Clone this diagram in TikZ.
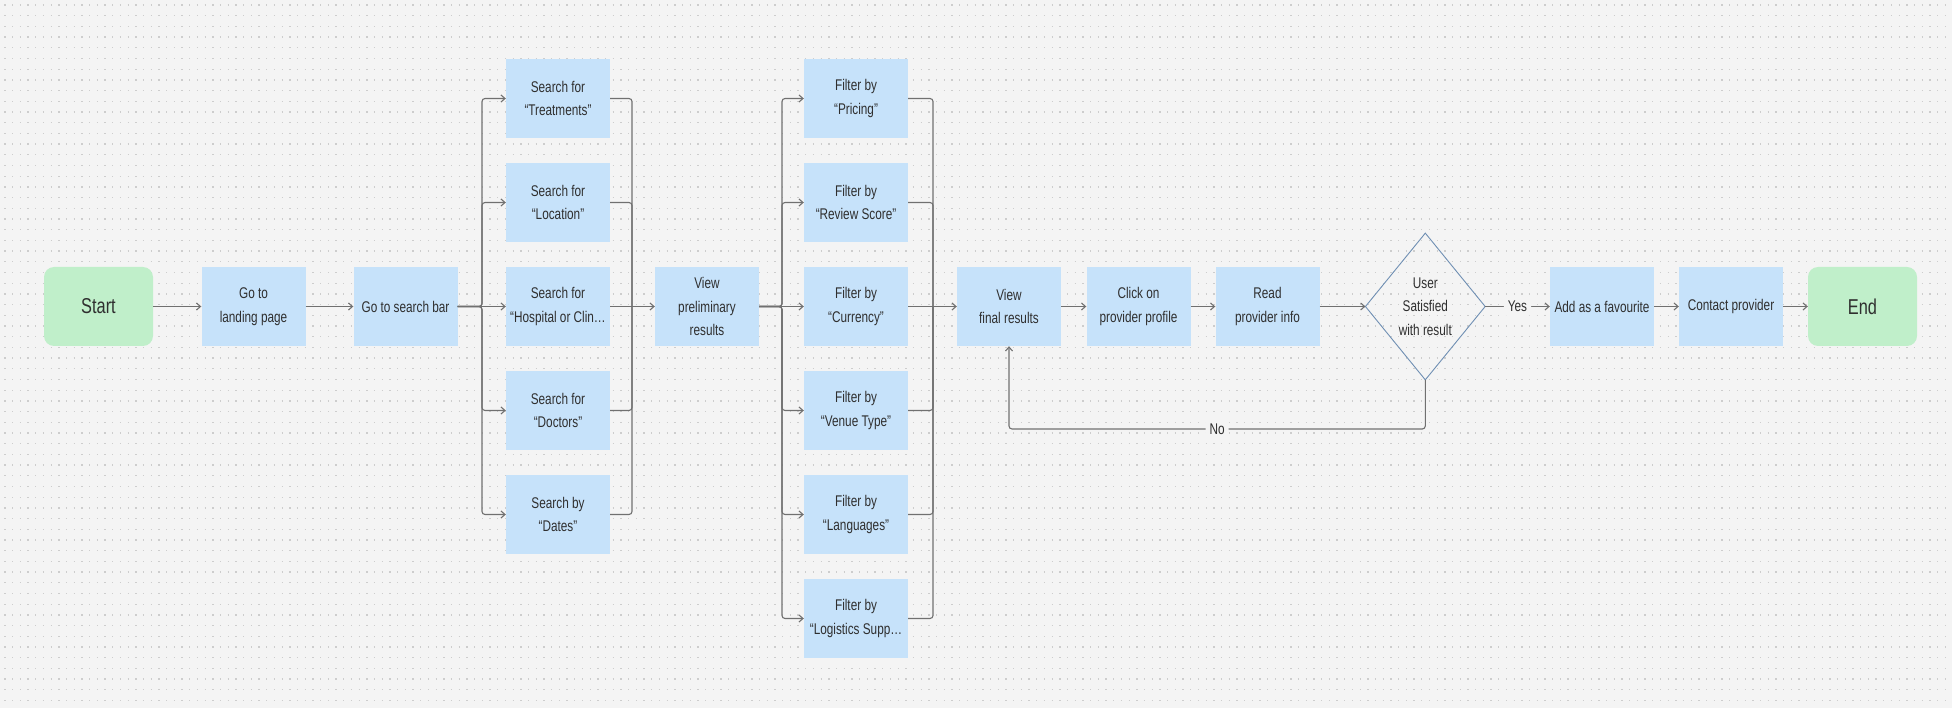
\documentclass[tikz,border=0pt]{standalone}
\usepackage{fontspec}
\setmainfont[FakeStretch=0.76]{Liberation Sans}
\usetikzlibrary{arrows.meta}
\definecolor{bgc}{HTML}{F4F4F4}
\definecolor{dotc}{HTML}{CDCDCD}
\definecolor{boxblue}{HTML}{C6E2FA}
\definecolor{boxgreen}{HTML}{C0EFCA}
\definecolor{txtc}{HTML}{2F2F2F}
\definecolor{lnc}{HTML}{707070}
\definecolor{diamc}{HTML}{6F8FB3}
\begin{document}
\begin{tikzpicture}[x=1pt,y=-1pt,
  box/.style={fill=boxblue, minimum width=104pt, minimum height=79pt, inner sep=0pt,
    align=center, text=txtc, font=\fontsize{15.5}{23.7}\selectfont},
  term/.style={fill=boxgreen, rounded corners=10pt, minimum width=109pt, minimum height=79pt,
    inner sep=0pt, text=txtc, font=\fontsize{21.5}{25}\selectfont},
  wire/.style={draw=lnc, line width=1.1pt, rounded corners=3pt},
  conn/.style={wire, -{Straight Barb[length=4pt,width=7pt]}},
  lbl/.style={fill=bgc, inner sep=4pt, text=txtc, font=\fontsize{15.5}{18}\selectfont},
  decbox/.style={minimum width=119.3pt, minimum height=146.3pt, inner sep=0pt, align=center,
    text=txtc, font=\fontsize{15.5}{23.7}\selectfont}
]
% background
\fill[bgc] (0,0) rectangle (1952,708);
\useasboundingbox (0,0) rectangle (1952,708);
\foreach \r in {0,...,65} {
  \draw[dotc, line width=1.3pt, dash pattern=on 1.3pt off 6.4pt] (4.35,5+10.7*\r) -- (1952,5+10.7*\r);
}
% main nodes
\node[term] (start) at (98.5,306.5) {Start};
\node[box] (lp) at (253.5,306.5) {Go to\\landing page};
\node[box] (sb) at (405.5,306.5) {Go to search bar};
\node[box] (s1) at (558,98.5) {Search for\\“Treatments”};
\node[box] (s2) at (558,202.5) {Search for\\“Location”};
\node[box] (s3) at (558,306.5) {Search for\\“Hospital or Clin…};
\node[box] (s4) at (558,410.5) {Search for\\“Doctors”};
\node[box] (s5) at (558,514.5) {Search by\\“Dates”};
\node[box] (vp) at (707,306.5) {View\\preliminary\\results};
\node[box] (f1) at (856,98.5) {Filter by\\“Pricing”};
\node[box] (f2) at (856,202.5) {Filter by\\“Review Score”};
\node[box] (f3) at (856,306.5) {Filter by\\“Currency”};
\node[box] (f4) at (856,410.5) {Filter by\\“Venue Type”};
\node[box] (f5) at (856,514.5) {Filter by\\“Languages”};
\node[box] (f6) at (856,618.5) {Filter by\\“Logistics Supp…};
\node[box] (vf) at (1009,306.5) {View\\final results};
\node[box] (cp) at (1138.5,306.5) {Click on\\provider profile};
\node[box] (rd) at (1267.5,306.5) {Read\\provider info};
\node[decbox] (dec) at (1425.3,306.5) {User\\Satisfied\\with result};
\draw[diamc, line width=0.9pt] (dec.north) -- (dec.east) -- (dec.south) -- (dec.west) -- cycle;
\node[box] (add) at (1602,306.5) {Add as a favourite};
\node[box] (ct) at (1731,306.5) {Contact provider};
\node[term] (end) at (1862.5,306.5) {End};
% bus coordinates
\coordinate (sl) at (482,306.5);
\coordinate (sr) at (632,306.5);
\coordinate (fl) at (782,306.5);
\coordinate (fr) at (933,306.5);
\coordinate (c1) at (1425.3,429);
\coordinate (c2) at (1009,429);
% connectors
\draw[conn] (start.east) -- (lp.west);
\draw[conn] (lp.east) -- (sb.west);
\foreach \n in {s1,s2,s4,s5} {
  \draw[conn] (sb.east) -- (sl) |- (\n.west);
  \draw[wire] (\n.east) -| (sr);
}
\draw[conn] (sb.east) -- (s3.west);
\draw[conn] (s3.east) -- (vp.west);
\foreach \n in {f1,f2,f4,f5,f6} {
  \draw[conn] (vp.east) -- (fl) |- (\n.west);
  \draw[wire] (\n.east) -| (fr);
}
\draw[conn] (vp.east) -- (f3.west);
\draw[conn] (f3.east) -- (vf.west);
\draw[conn] (vf.east) -- (cp.west);
\draw[conn] (cp.east) -- (rd.west);
\draw[conn] (rd.east) -- (dec.west);
\draw[conn] (dec.east) -- node[lbl] (yes) {Yes} (add.west);
\draw[conn] (add.east) -- (ct.west);
\draw[conn] (ct.east) -- (end.west);
\draw[conn] (dec.south) -- (c1) -- node[lbl] (no) {No} (c2) -- (vf.south);
\end{tikzpicture}
\end{document}
